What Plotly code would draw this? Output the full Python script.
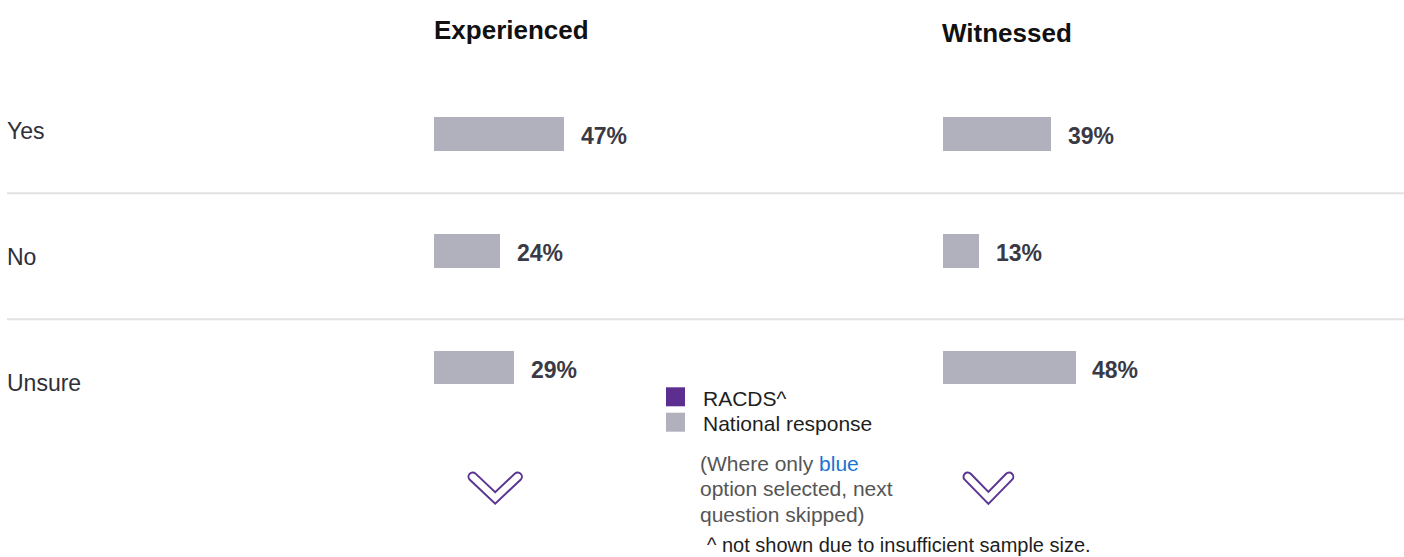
import math
import plotly.graph_objects as go

# ---- data -------------------------------------------------------------
categories = ["Yes", "No", "Unsure"]
experienced = [47, 24, 29]
witnessed = [39, 13, 48]
panel_titles = ["Experienced", "Witnessed"]
legend_names = ["RACDS^", "National response"]
note_lines = [
    "(Where only <span style='color:#1b74d3'>blue</span>",
    "option selected, next",
    "question skipped)",
]
footnote = "^ not shown due to insufficient sample size."

# ---- styling / layout constants ---------------------------------------
W, H = 1404, 557
FONT = "Liberation Sans, Arial, Helvetica, sans-serif"
BAR_COLOR = "#b1b1bd"
PURPLE = "#5b2e8f"
CHEVRON = "#5a3592"
LEGEND_COLORS = [PURPLE, BAR_COLOR]

ROW0, ROW_STEP = 134.0, 116.8          # pixel centre of first row, row pitch
PX_PER_PCT = 2.77
PANEL_X = [434.0, 942.5]                # left edge of each panel's bars
ROW_LABEL_Y = [131, 257, 383]
SEPARATOR_Y = [193.3, 319.3]
PAD = 2                                 # annotation box padding compensation


def px(x):
    return x / W


def py(y):
    return 1 - y / H


fig = go.Figure()

for vals, xa in [(experienced, "x"), (witnessed, "x2")]:
    fig.add_trace(go.Bar(
        x=vals, y=categories, orientation="h",
        xaxis=xa, yaxis="y",
        marker=dict(color=BAR_COLOR, line=dict(width=0)),
        width=33.5 / ROW_STEP,
        hoverinfo="skip", showlegend=False,
    ))

yrange = [(H - ROW0) / ROW_STEP, -ROW0 / ROW_STEP]
fig.update_layout(
    width=W, height=H,
    margin=dict(l=0, r=0, t=0, b=0),
    paper_bgcolor="white", plot_bgcolor="white",
    showlegend=False,
    bargap=0,
    xaxis=dict(domain=[px(PANEL_X[0]), px(PANEL_X[0] + 100 * PX_PER_PCT)],
               range=[0, 100], visible=False, anchor="y"),
    xaxis2=dict(domain=[px(PANEL_X[1]), px(PANEL_X[1] + 100 * PX_PER_PCT)],
                range=[0, 100], visible=False, anchor="y"),
    yaxis=dict(domain=[0, 1], range=yrange, type="category",
               categoryorder="array", categoryarray=categories, visible=False),
)

annotations = []
shapes = []

# panel titles
for title, x0, yc in zip(panel_titles, PANEL_X, [30, 32.5]):
    annotations.append(dict(
        text=f"<b>{title}</b>", x=px(x0 - PAD), y=py(yc), xref="paper", yref="paper",
        xanchor="left", yanchor="middle", showarrow=False,
        font=dict(family=FONT, size=26, color="#111111"),
    ))

# value labels next to bars
for vals, xa in [(experienced, "x"), (witnessed, "x2")]:
    for cat, v in zip(categories, vals):
        annotations.append(dict(
            text=f"<b>{v}%</b>", x=v, y=cat, xref=xa, yref="y",
            xanchor="left", yanchor="middle", xshift=15, yshift=-2,
            showarrow=False, font=dict(family=FONT, size=23, color="#3a3a47"),
        ))

# row labels
for cat, yc in zip(categories, ROW_LABEL_Y):
    annotations.append(dict(
        text=cat, x=px(7 - PAD), y=py(yc), xref="paper", yref="paper",
        xanchor="left", yanchor="middle", showarrow=False,
        font=dict(family=FONT, size=23, color="#2f2f3a"),
    ))

# row separators
for yl in SEPARATOR_Y:
    shapes.append(dict(type="line", xref="paper", yref="paper",
                       x0=px(7), x1=1, y0=py(yl), y1=py(yl),
                       line=dict(color="#e2e2e2", width=2)))

# legend
for name, col, (top, yc) in zip(legend_names, LEGEND_COLORS,
                                [(387.3, 398), (412.7, 423.3)]):
    shapes.append(dict(type="rect", xref="paper", yref="paper",
                       x0=px(666), x1=px(685), y0=py(top), y1=py(top + 19),
                       fillcolor=col, line=dict(width=0)))
    annotations.append(dict(
        text=name, x=px(703 - PAD), y=py(yc), xref="paper", yref="paper",
        xanchor="left", yanchor="middle", showarrow=False,
        font=dict(family=FONT, size=21, color="#1e1e1e"),
    ))

# explanatory note
for k, line in enumerate(note_lines):
    annotations.append(dict(
        text=line, x=px(700 - PAD), y=py(463.3 + 25.5 * k), xref="paper", yref="paper",
        xanchor="left", yanchor="middle", showarrow=False,
        font=dict(family=FONT, size=21, color="#555555"),
    ))

# footnote sits on the bottom edge of the figure
annotations.append(dict(
    text=footnote, x=px(707 - 1), y=0, xref="paper", yref="paper",
    xanchor="left", yanchor="bottom", showarrow=False, borderpad=0,
    font=dict(family=FONT, size=20, color="#1e1e1e"),
))


def chevron_path(cx, tip_y, half_w, rise, r):
    """Outline of a thick 'V' with rounded ends, in paper coordinates."""
    L = (cx - half_w, tip_y - rise)
    R = (cx + half_w, tip_y - rise)
    n = math.hypot(half_w, rise)
    d1 = (half_w / n, rise / n)            # left end -> tip
    d2 = (half_w / n, -rise / n)           # tip -> right end
    off = r / (half_w / n)
    k = 0.5523 * r

    def P(p):
        return f"{px(p[0]):.6f},{py(p[1]):.6f}"

    def add(a, b, s=1.0):
        return (a[0] + s * b[0], a[1] + s * b[1])

    out2 = (rise / n, half_w / n)          # below the right arm
    in2 = (-out2[0], -out2[1])
    out1 = (-rise / n, half_w / n)         # below the left arm
    in1 = (-out1[0], -out1[1])

    tip_out = (cx, tip_y + off)
    tip_in = (cx, tip_y - off)

    r_out = add(R, out2, r)
    r_mid = add(R, d2, r)
    r_in = add(R, in2, r)
    l_in = add(L, in1, r)
    l_mid = add(L, d1, -r)
    l_out = add(L, out1, r)

    path = [f"M{P(l_out)}", f"L{P(tip_out)}", f"L{P(r_out)}"]
    path.append(f"C{P(add(r_out, d2, k))} {P(add(r_mid, out2, k))} {P(r_mid)}")
    path.append(f"C{P(add(r_mid, in2, k))} {P(add(r_in, d2, k))} {P(r_in)}")
    path.append(f"L{P(tip_in)}")
    path.append(f"L{P(l_in)}")
    path.append(f"C{P(add(l_in, d1, -k))} {P(add(l_mid, in1, k))} {P(l_mid)}")
    path.append(f"C{P(add(l_mid, out1, k))} {P(add(l_out, d1, -k))} {P(l_out)}")
    path.append("Z")
    return " ".join(path)


for cx, hw in [(495.2, 22.5), (988.4, 20.7)]:
    shapes.append(dict(type="path", xref="paper", yref="paper",
                       path=chevron_path(cx, 497.9, hw, 21.2, 4.2),
                       fillcolor="white", line=dict(color=CHEVRON, width=2)))

fig.update_layout(annotations=annotations, shapes=shapes)
fig.write_html("out.html")
